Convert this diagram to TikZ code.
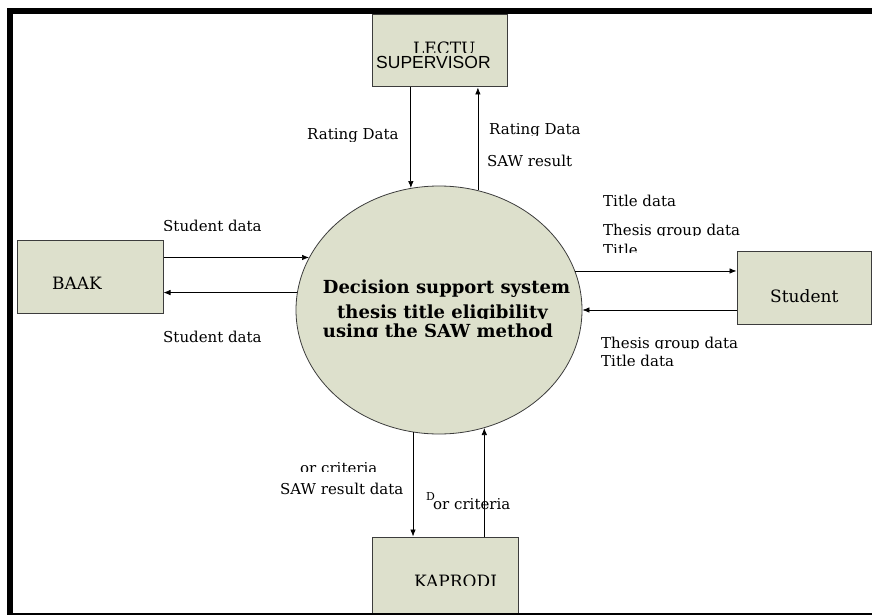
\documentclass[tikz,border=0pt]{standalone}
\usepackage{fontspec}
\setmainfont{DejaVu Serif}
\newfontfamily\sansf{Liberation Sans}
\usetikzlibrary{shapes.geometric,arrows.meta}
\definecolor{boxfill}{RGB}{221,224,204}
\definecolor{boxline}{RGB}{60,60,60}
\newcommand\cliplbl[5]{\begin{scope}\clip (0,0) rectangle (872,#4);\node[lbl] (#1) at (#2,#3) {#5};\end{scope}}
\begin{document}
\begin{tikzpicture}[x=1pt,y=-1pt,
  lbl/.style={font=\fontsize{15}{18}\selectfont, inner sep=0, anchor=base west},
  entlbl/.style={font=\fontsize{17}{20}\selectfont, inner sep=0, anchor=base west},
  syslbl/.style={font=\fontsize{18}{21}\selectfont\bfseries, inner sep=0, anchor=base},
  ent/.style={draw=boxline, fill=boxfill, line width=1pt, inner sep=0},
  arr/.style={-{Latex[length=7pt,width=5.5pt]}, line width=0.7pt},
  bar/.style={fill=black, draw=none}]
\useasboundingbox (0,0) rectangle (872,615);
% entities
\node[ent, minimum width=135, minimum height=72] (lect) at (439.5,51) {};
\node[ent, minimum width=146, minimum height=73] (baak) at (90,276.5) {};
\node[ent, minimum width=134, minimum height=73] (student) at (804,287.5) {};
\node[ent, minimum width=146, minimum height=76] (kap) at (445,575) {};
% process
\node[ellipse, draw=boxline, fill=boxfill, line width=0.8pt, minimum width=286, minimum height=248, inner sep=0] (sys) at (439,310) {};
% flows
\draw[arr] (lect.south -| sys.103.4) -- (sys.103.4);
\draw[arr] (sys.72.8) -- (lect.south -| sys.72.8);
\draw[arr] (baak.east |- sys.158.2) -- (sys.158.2);
\draw[arr] (sys.173.6) -- (baak.east |- sys.173.6);
\draw[arr] (sys.16.9) -- (student.west |- sys.16.9);
\draw[arr] (student.west |- sys.east) -- (sys.east);
\draw[arr] (sys.258.4) -- (kap.north -| sys.258.4);
\draw[arr] (kap.north -| sys.291.9) -- (sys.291.9);
% entity texts
\begin{scope}\clip (0,0) rectangle (872,53);
\node[entlbl, font=\fontsize{17}{20}\selectfont] (lectt) at (413,55) {LECTU};
\end{scope}
\node[entlbl, font=\sansf\fontsize{17.5}{20}\selectfont] (supt) at (376,68.3) {SUPERVISOR};
\node[entlbl] (baakt) at (52,289) {BAAK};
\node[entlbl] (studt) at (770,302.7) {Student};
\cliplbl{kapt}{414}{587}{585}{\fontsize{17}{20}\selectfont KAPRODI}
% process text
\node[syslbl] (sys1) at (446.5,293.3) {Decision support system};
\begin{scope}\clip (0,0) rectangle (872,318.3);
\node[syslbl] (sys2) at (442.5,318.3) {thesis title eligibility};
\end{scope}
\begin{scope}\clip (0,0) rectangle (872,336);
\node[syslbl] (sys3) at (438,337.5) {using the SAW method};
\end{scope}
% flow labels
\cliplbl{ratl}{307}{139.3}{141.7}{Rating Data}
\cliplbl{ratr}{489}{134.3}{135}{Rating Data}
\cliplbl{sawr}{487}{166}{166}{SAW result}
\cliplbl{stdt}{163}{231}{230.7}{Student data}
\cliplbl{stdb}{163}{342.7}{342.7}{Student data}
\node[lbl] (ttl) at (603,206) {Title data};
\cliplbl{tg}{603}{235}{235}{Thesis group data}
\cliplbl{ti}{603}{255}{252.7}{Title}
\cliplbl{tgb}{601}{348.7}{348}{Thesis group data}
\cliplbl{tdb}{601}{366}{365}{Title data}
\cliplbl{orl}{300}{473}{471.7}{or criteria}
\node[lbl] (sawd) at (280,494) {SAW result data};
\node[lbl, font=\fontsize{11}{13}\selectfont] (dd) at (426,500.5) {D};
\node[lbl] (orr) at (433,509) {or criteria};
% frame
\fill[bar] (7,8) rectangle (872,14.5);
\fill[bar] (7,8) rectangle (13,615);
\fill[bar] (7,612.5) rectangle (872,615);
\end{tikzpicture}
\end{document}
